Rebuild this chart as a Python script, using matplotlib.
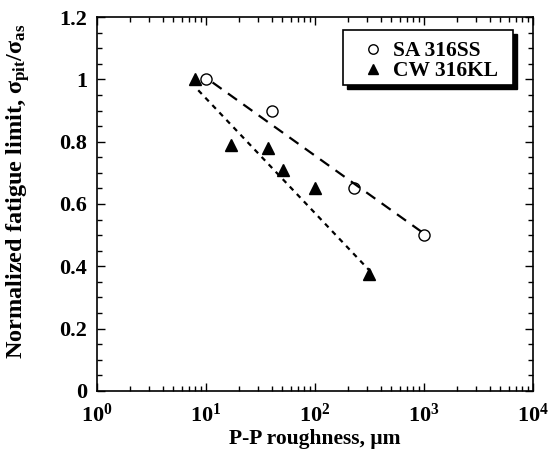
import numpy as np
import matplotlib
matplotlib.use("Agg")
import matplotlib.pyplot as plt
from matplotlib.patches import Rectangle
from matplotlib.ticker import FixedLocator, FuncFormatter, LogLocator, NullFormatter, MultipleLocator

plt.rcParams['font.family'] = ['Liberation Serif', 'DejaVu Serif']
plt.rcParams['font.weight'] = 'bold'
plt.rcParams['mathtext.fontset'] = 'custom'
plt.rcParams['mathtext.rm'] = 'Liberation Serif:bold'
plt.rcParams['mathtext.it'] = 'Liberation Serif:bold'
plt.rcParams['mathtext.bf'] = 'Liberation Serif:bold'

# Data
sa_x = [10, 40, 230, 1000]
sa_y = [1.0, 0.9, 0.65, 0.5]
cw_x = [8, 17, 37, 51, 100, 310]
cw_y = [1.0, 0.79, 0.78, 0.71, 0.65, 0.375]

# Trend lines (end points)
sa_fit_x = [11.5, 1050]
sa_fit_y = [0.99, 0.50]
cw_fit_x = [8.5, 330]
cw_fit_y = [0.965, 0.38]

series_labels = ["SA 316SS", "CW 316KL"]
x_label = "P-P roughness, μm"
y_label = r"Normalized fatigue limit, $\sigma_{\rm pit}/\sigma_{\rm as}$"

fig = plt.figure(figsize=(5.54, 4.55), dpi=100)
ax = fig.add_axes([0.175, 0.1407, 0.962 - 0.175, 0.9626 - 0.1407])

ax.plot(sa_x, sa_y, linestyle='none', marker='o', markersize=8,
        markerfacecolor='white', markeredgecolor='black', markeredgewidth=1.0,
        label=series_labels[0], zorder=3)
ax.plot(cw_x, cw_y, linestyle='none', marker='^', markersize=8.5,
        markerfacecolor='black', markeredgecolor='black',
        label=series_labels[1], zorder=3)

l1, = ax.plot(sa_fit_x, sa_fit_y, color='black', lw=1.6, zorder=4)
l1.set_dashes([5, 3.5])
l2, = ax.plot(cw_fit_x, cw_fit_y, color='black', lw=1.6, zorder=4)
l2.set_dashes([2.3, 2.3])

ax.set_xscale('log')
ax.set_xlim(1, 1e4)
ax.set_ylim(0, 1.2)

ax.xaxis.set_major_locator(FixedLocator([1, 10, 100, 1000, 10000]))
ax.xaxis.set_major_formatter(FuncFormatter(lambda v, p: r"$10^{%d}$" % int(round(np.log10(v)))))
ax.xaxis.set_minor_locator(LogLocator(base=10, subs=np.arange(2, 10), numticks=20))
ax.xaxis.set_minor_formatter(NullFormatter())

ax.yaxis.set_major_locator(MultipleLocator(0.2))
ax.yaxis.set_minor_locator(MultipleLocator(0.05))
ax.yaxis.set_major_formatter(FuncFormatter(lambda v, p: "0" if abs(v) < 1e-9 else ("1" if abs(v-1) < 1e-9 else f"{v:g}")))

ax.tick_params(which='both', direction='in', top=True, right=True, width=1.0)
ax.tick_params(which='major', length=6, labelsize=16)
ax.tick_params(axis='y', which='major', pad=7)
ax.tick_params(axis='x', which='major', pad=9)
ax.tick_params(which='minor', length=3.5)
for lab in ax.get_xticklabels() + ax.get_yticklabels():
    lab.set_fontweight('bold')

for s in ax.spines.values():
    s.set_linewidth(1.2)

ax.set_xlabel(x_label, fontsize=15.5, fontweight='bold', labelpad=2)
ax.set_ylabel(y_label, fontsize=17.5, fontweight='bold')
ax.yaxis.set_label_coords(-0.148, 0.535)

# Legend frame with solid drop shadow
bx0, by0, bw, bh = 0.564, 0.818, 0.390, 0.147
sdx, sdy = 0.0095, 0.011
ax.add_patch(Rectangle((bx0 + sdx, by0 - sdy), bw, bh, transform=ax.transAxes,
                       facecolor='black', edgecolor='black', zorder=5, clip_on=False))
ax.add_patch(Rectangle((bx0, by0), bw, bh, transform=ax.transAxes,
                       facecolor='white', edgecolor='black', linewidth=1.2, zorder=6,
                       clip_on=False))

leg = ax.legend(loc='upper left', bbox_to_anchor=(0.608, 0.935), borderaxespad=0,
                frameon=False, prop={'size': 15.5, 'weight': 'bold'},
                handletextpad=0.42, borderpad=0, labelspacing=0.0, handlelength=1.0,
                markerscale=0.85)
leg.set_zorder(7)

fig.savefig("out.png", dpi=100)
